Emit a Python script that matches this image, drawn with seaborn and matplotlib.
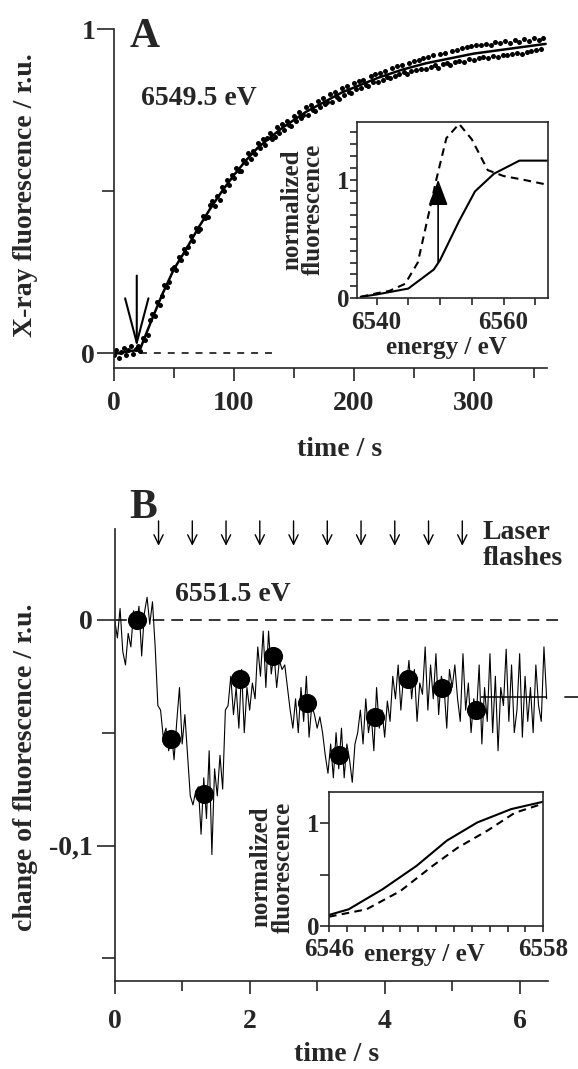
import numpy as np
import pandas as pd
import matplotlib
matplotlib.use("Agg")
import matplotlib.pyplot as plt
import seaborn as sns

# ---------------- data ----------------
# panel A: fluorescence rise at 6549.5 eV
time_a = list(range(0, 360, 2))
scatter_a = [-0.006, 0.01, -0.013, 0.004, 0.017, -0.004, 0.011, 0.022, -0.002, 0.013,
             0.024, 0.006, 0.046, 0.041, 0.058, 0.104, 0.121, 0.114, 0.159, 0.149,
             0.176, 0.212, 0.205, 0.219, 0.259, 0.268, 0.258, 0.297, 0.288, 0.323,
             0.309, 0.329, 0.361, 0.347, 0.388, 0.379, 0.384, 0.424, 0.417, 0.421,
             0.458, 0.47, 0.455, 0.486, 0.474, 0.513, 0.502, 0.536, 0.518, 0.549,
             0.541, 0.573, 0.562, 0.564, 0.597, 0.588, 0.618, 0.6, 0.625, 0.614,
             0.648, 0.633, 0.661, 0.642, 0.664, 0.679, 0.662, 0.668, 0.697, 0.681,
             0.708, 0.689, 0.718, 0.704, 0.701, 0.733, 0.716, 0.744, 0.726, 0.737,
             0.759, 0.736, 0.766, 0.751, 0.748, 0.779, 0.76, 0.787, 0.768, 0.776,
             0.799, 0.777, 0.806, 0.79, 0.786, 0.82, 0.797, 0.825, 0.806, 0.803,
             0.834, 0.815, 0.84, 0.818, 0.845, 0.828, 0.824, 0.856, 0.837, 0.862,
             0.838, 0.866, 0.845, 0.871, 0.853, 0.849, 0.88, 0.857, 0.886, 0.862,
             0.891, 0.868, 0.863, 0.897, 0.872, 0.902, 0.873, 0.906, 0.878, 0.912,
             0.877, 0.915, 0.884, 0.921, 0.889, 0.882, 0.925, 0.893, 0.928, 0.895,
             0.889, 0.934, 0.898, 0.937, 0.903, 0.941, 0.899, 0.944, 0.907, 0.947,
             0.904, 0.95, 0.912, 0.952, 0.913, 0.956, 0.91, 0.953, 0.918, 0.962,
             0.916, 0.957, 0.921, 0.964, 0.92, 0.958, 0.924, 0.967, 0.927, 0.962,
             0.925, 0.969, 0.931, 0.965, 0.933, 0.972, 0.936, 0.968, 0.939, 0.974]
fit_time_a = [0, 5, 10, 15, 20, 22, 30, 40, 50, 60, 70, 80, 90, 100, 110, 120, 130,
              140, 150, 160, 170, 180, 190, 200, 220, 240, 260, 280, 300, 320, 340, 360]
fit_a = [0.0, 0.0, 0.005, 0.008, 0.01, 0.015, 0.09, 0.18, 0.26, 0.32, 0.385, 0.445,
         0.50, 0.55, 0.595, 0.635, 0.665, 0.695, 0.72, 0.745, 0.765, 0.785, 0.805,
         0.82, 0.85, 0.875, 0.895, 0.91, 0.925, 0.935, 0.945, 0.955]

# inset A: XANES edge, before (solid) and after (dashed)
energy_solid_a = [6537.5, 6540, 6545, 6549, 6550, 6553, 6555.5, 6558.5, 6562.5, 6567.5]
norm_solid_a = [0.01, 0.03, 0.08, 0.24, 0.32, 0.65, 0.9, 1.05, 1.16, 1.16]
energy_dash_a = [6537.5, 6540, 6542, 6544.5, 6546.5, 6548, 6549.5, 6551, 6553, 6555,
                 6557.5, 6560, 6563, 6567.5]
norm_dash_a = [0.01, 0.04, 0.06, 0.12, 0.3, 0.66, 1.02, 1.35, 1.47, 1.34, 1.08, 1.03, 1.0, 0.95]

# panel B: flash-induced changes at 6551.5 eV
time_b = [round(0.04 * i, 2) for i in range(161)]
trace_b = [0.0, -0.008, 0.005, -0.014, -0.02, -0.006, -0.012, 0.004, -0.003, 0.006,
           -0.016, 0.003, 0.01, -0.002, 0.008, -0.012, -0.038, -0.04, -0.052, -0.048,
           -0.058, -0.05, -0.062, -0.045, -0.03, -0.055, -0.042, -0.06, -0.078, -0.082,
           -0.076, -0.074, -0.095, -0.07, -0.088, -0.058, -0.104, -0.066, -0.078, -0.06,
           -0.075, -0.04, -0.038, -0.025, -0.042, -0.03, -0.048, -0.022, -0.05, -0.03,
           -0.04, -0.028, -0.035, -0.012, -0.025, -0.005, -0.03, -0.005, -0.024, -0.015,
           -0.03, -0.018, -0.022, -0.02, -0.03, -0.04, -0.048, -0.035, -0.05, -0.03,
           -0.045, -0.025, -0.052, -0.038, -0.042, -0.048, -0.043, -0.05, -0.06, -0.068,
           -0.055, -0.07, -0.05, -0.066, -0.048, -0.07, -0.055, -0.062, -0.072, -0.055,
           -0.05, -0.04, -0.055, -0.035, -0.05, -0.042, -0.058, -0.03, -0.048, -0.04,
           -0.052, -0.036, -0.045, -0.025, -0.035, -0.02, -0.04, -0.025, -0.03, -0.018,
           -0.035, -0.022, -0.045, -0.028, -0.033, -0.012, -0.04, -0.02, -0.035, -0.015,
           -0.042, -0.025, -0.03, -0.048, -0.022, -0.03, -0.02, -0.035, -0.045, -0.015,
           -0.04, -0.028, -0.05, -0.035, -0.042, -0.02, -0.055, -0.03, -0.045, -0.015,
           -0.05, -0.025, -0.058, -0.03, -0.038, -0.013, -0.045, -0.02, -0.05, -0.04,
           -0.015, -0.052, -0.025, -0.045, -0.03, -0.05, -0.02, -0.038, -0.045, -0.012,
           -0.035]
dot_time_b = [0.33, 0.84, 1.33, 1.85, 2.35, 2.85, 3.33, 3.85, 4.35, 4.85, 5.35]
dot_b = [0.0, -0.053, -0.077, -0.026, -0.016, -0.037, -0.060, -0.043, -0.026, -0.030, -0.040]
flash_times = [0.65, 1.15, 1.65, 2.15, 2.65, 3.15, 3.65, 4.15, 4.65, 5.15]
level_b = -0.034

# inset B: edge spectra
energy_b = [6546, 6547.1, 6549, 6550.9, 6552.6, 6554.3, 6556.2, 6558]
norm_solid_b = [0.107, 0.162, 0.357, 0.584, 0.83, 1.006, 1.136, 1.208]
energy_dash_b = [6546, 6548.1, 6550, 6551.8, 6553.2, 6554.9, 6556.4, 6558]
norm_dash_b = [0.09, 0.162, 0.34, 0.584, 0.76, 0.93, 1.10, 1.19]

# ---------------- style ----------------
sns.set_style("ticks")
plt.rcParams['font.family'] = ['Liberation Serif', 'DejaVu Serif']
plt.rcParams['font.weight'] = 'bold'
plt.rcParams['axes.labelweight'] = 'bold'
plt.rcParams['lines.scale_dashes'] = False
plt.rcParams['axes.linewidth'] = 1.2
plt.rcParams['xtick.major.width'] = 1.2
plt.rcParams['ytick.major.width'] = 1.2
plt.rcParams['xtick.minor.width'] = 1.2
plt.rcParams['ytick.minor.width'] = 1.2

fig = plt.figure(figsize=(5.78, 10.69), dpi=100)

ax_a = fig.add_axes([0.1972, 0.6555, 0.749, 0.3171])
ax_ai = fig.add_axes([0.6185, 0.7212, 0.3296, 0.1651])
ax_b = fig.add_axes([0.1984, 0.0823, 0.7497, 0.4228])
ax_bi = fig.add_axes([0.5692, 0.1338, 0.3708, 0.1251])

# ---------------- panel A ----------------
df_a = pd.DataFrame({'t': time_a, 'y': scatter_a})
sns.scatterplot(data=df_a, x='t', y='y', s=13, color='black', linewidth=0, ax=ax_a)
sns.lineplot(x=fit_time_a, y=fit_a, color='black', lw=1.8, ax=ax_a)
ax_a.plot([22, 133], [0, 0], color='black', lw=1.1, dashes=(5, 5))
ax_a.annotate('', xy=(19, 0.02), xytext=(19, 0.24),
              arrowprops=dict(arrowstyle='->,head_length=1.6,head_width=0.42',
                              mutation_scale=20, lw=1.5, color='black',
                              shrinkA=0, shrinkB=0))
ax_a.set_xlim(0, 361)
ax_a.set_ylim(-0.046, 1.0)
sns.despine(ax=ax_a)
ax_a.set_xticks([0, 100, 200, 300])
ax_a.set_xticks([50, 150, 250, 350], minor=True)
ax_a.set_yticks([0, 1])
ax_a.set_yticklabels(['0', '1'])
ax_a.set_yticks([0.5], minor=True)
ax_a.tick_params(axis='x', which='major', length=9.5, labelsize=20, pad=7)
ax_a.tick_params(axis='x', which='minor', length=7)
ax_a.tick_params(axis='y', which='major', length=12, labelsize=20, pad=1.5)
ax_a.tick_params(axis='y', which='minor', length=9)
ax_a.set_xlabel('time / s', fontsize=20, fontweight='bold')
ax_a.set_ylabel('X-ray fluorescence / r.u.', fontsize=20, fontweight='bold')
ax_a.xaxis.set_label_coords(0.52, -0.241)
ax_a.yaxis.set_label_coords(-0.205, 0.51)
ax_a.xaxis.label.set_va('center')
ax_a.yaxis.label.set_va('center')
ax_a.text(13.3, 0.946, 'A', fontsize=30, fontweight='bold', va='baseline')
ax_a.text(22.3, 0.766, '6549.5 eV', fontsize=20, fontweight='bold', va='baseline')

# inset A
sns.lineplot(x=energy_solid_a, y=norm_solid_a, color='black', lw=1.5, ax=ax_ai)
ax_ai.plot(energy_dash_a, norm_dash_a, color='black', lw=1.5, dashes=(5.5, 3.8))
ax_ai.annotate('', xy=(6549.7, 1.0), xytext=(6549.7, 0.3),
               arrowprops=dict(arrowstyle='-|>,head_length=0.8,head_width=0.3',
                               mutation_scale=20, lw=1.2, color='black',
                               shrinkA=0, shrinkB=0))
ax_ai.set_xlim(6537, 6567)
ax_ai.set_ylim(0, 1.49)
ax_ai.set_xticks(np.arange(6540, 6567, 5))
ax_ai.set_xticklabels(['6540', '', '', '', '6560', ''])
ax_ai.set_yticks(np.arange(0, 1.45, 0.1))
ax_ai.set_yticklabels(['0' if i == 0 else ('1' if i == 10 else '') for i in range(15)])
ax_ai.tick_params(axis='both', length=5, labelsize=18, pad=1)
ax_ai.tick_params(axis='x', pad=4.5)
ax_ai.text(0.468, -0.283, 'energy / eV', transform=ax_ai.transAxes, fontsize=18,
           fontweight='bold', ha='center', va='center')
ax_ai.text(-0.289, 0.5, 'normalized\nfluorescence', transform=ax_ai.transAxes,
           fontsize=18, fontweight='bold', ha='center', va='center', rotation=90,
           linespacing=0.95)

# ---------------- panel B ----------------
df_b = pd.DataFrame({'t': time_b, 'y': trace_b})
sns.lineplot(data=df_b, x='t', y='y', color='black', lw=0.8, ax=ax_b)
sns.scatterplot(x=dot_time_b, y=dot_b, s=190, color='black', linewidth=0, ax=ax_b,
                zorder=3)
ax_b.plot([0, 6.65], [0, 0], color='black', lw=1.1, dashes=(8.5, 5), clip_on=False)
ax_b.plot([5.43, 6.86], [level_b, level_b], color='black', lw=1.1,
          dashes=(47, 13), clip_on=False)
for ft in flash_times:
    ax_b.annotate('', xy=(ft, 0.0328), xytext=(ft, 0.0438), annotation_clip=False,
                  arrowprops=dict(arrowstyle='->,head_length=0.45,head_width=0.22',
                                  mutation_scale=15, lw=1.0, color='black',
                                  shrinkA=0, shrinkB=0))
ax_b.set_xlim(0, 6.42)
ax_b.set_ylim(-0.16, 0.0402)
sns.despine(ax=ax_b)
ax_b.set_xticks([0, 2, 4, 6])
ax_b.set_xticks([1, 3, 5], minor=True)
ax_b.set_yticks([-0.1, 0])
ax_b.set_yticklabels(['-0,1', '0'])
ax_b.set_yticks([-0.15, -0.05], minor=True)
ax_b.tick_params(axis='x', which='major', length=9.5, labelsize=20, pad=11)
ax_b.tick_params(axis='x', which='minor', length=7)
ax_b.tick_params(axis='y', which='major', length=13, labelsize=20, pad=3)
ax_b.tick_params(axis='y', which='minor', length=9.5)
ax_b.set_xlabel('time / s', fontsize=20, fontweight='bold')
ax_b.set_ylabel('change of fluorescence / r.u.', fontsize=20, fontweight='bold')
ax_b.xaxis.set_label_coords(0.513, -0.162)
ax_b.yaxis.set_label_coords(-0.205, 0.472)
ax_b.xaxis.label.set_va('center')
ax_b.yaxis.label.set_va('center')
ax_b.text(0.21, 0.0452, 'B', fontsize=30, fontweight='bold', va='baseline')
ax_b.text(0.89, 0.0083, '6551.5 eV', fontsize=20, fontweight='bold', va='baseline')
ax_b.text(5.45, 0.0444, 'Laser\nflashes', fontsize=20, fontweight='bold', va='top',
          ha='left', linespacing=1.1)

# inset B
sns.lineplot(x=energy_b, y=norm_solid_b, color='black', lw=1.5, ax=ax_bi)
ax_bi.plot(energy_dash_b, norm_dash_b, color='black', lw=1.5, dashes=(5.5, 3.8))
ax_bi.set_xlim(6546, 6558)
ax_bi.set_ylim(0, 1.3)
ax_bi.set_xticks(np.arange(6546, 6559, 1))
ax_bi.set_xticklabels(['6546'] + [''] * 11 + ['6558'])
ax_bi.set_yticks([0, 0.5, 1])
ax_bi.set_yticklabels(['0', '', '1'])
ax_bi.tick_params(axis='x', length=4.5, labelsize=18, pad=4.3)
ax_bi.tick_params(axis='y', length=6.5, labelsize=18, pad=0.5)
ax_bi.text(0.446, -0.21, 'energy / eV', transform=ax_bi.transAxes, fontsize=18,
           fontweight='bold', ha='center', va='center')
ax_bi.text(-0.266, 0.44, 'normalized\nfluorescence', transform=ax_bi.transAxes,
           fontsize=18, fontweight='bold', ha='center', va='center', rotation=90,
           linespacing=0.95)

for ax in [ax_a, ax_ai, ax_b, ax_bi]:
    for lab in ax.get_xticklabels() + ax.get_yticklabels():
        lab.set_fontweight('bold')
    ax.set_facecolor('none')

fig.savefig('out.png', dpi=100)
